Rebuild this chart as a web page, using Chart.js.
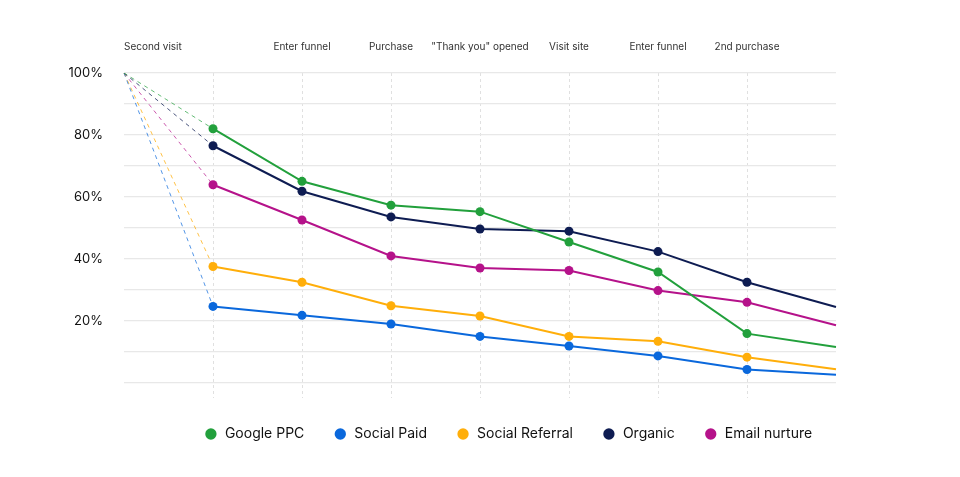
<!DOCTYPE html>
<html>
<head>
<meta charset="utf-8">
<script src="https://cdn.jsdelivr.net/npm/chart.js@4/dist/chart.umd.min.js"></script>
<style>
  body { margin: 0; background: #fff; }
  #chart { display: block; }
</style>
</head>
<body>
<canvas id="chart" width="960" height="477"></canvas>
<script>
const steps = ['Second visit', '', 'Enter funnel', 'Purchase', '"Thank you" opened', 'Visit site', 'Enter funnel', '2nd purchase', ''];

const googlePPC = [100, 82, 65, 57.3, 55.2, 45.4, 35.7, 15.8, 11.5];
const socialPaid = [100, 24.6, 21.7, 18.9, 14.9, 11.8, 8.6, 4.2, 2.5];
const socialReferral = [100, 37.5, 32.4, 24.8, 21.5, 14.9, 13.3, 8.2, 4.3];
const organic = [100, 76.5, 61.8, 53.5, 49.6, 48.9, 42.3, 32.4, 24.4];
const emailNurture = [100, 63.9, 52.5, 40.9, 37.0, 36.2, 29.7, 25.9, 18.5];

const FONT = 'Inter, "Noto Sans", sans-serif';
const last = steps.length - 1;

function series(label, data, color, faded) {
    return {
        label: label,
        data: data,
        yAxisID: 'y',
        borderColor: color,
        backgroundColor: color,
        borderWidth: 2,
        tension: 0,
        pointRadius: ctx => (ctx.dataIndex === 0 || ctx.dataIndex === last) ? 0 : 4.5,
        pointHoverRadius: 5,
        pointBorderWidth: 0,
        segment: {
            borderDash: ctx => ctx.p0DataIndex === 0 ? [4, 4] : undefined,
            borderWidth: ctx => ctx.p0DataIndex === 0 ? 1 : undefined,
            borderColor: ctx => ctx.p0DataIndex === 0 ? faded : undefined
        }
    };
}

new Chart(document.getElementById('chart').getContext('2d'), {
    type: 'line',
    data: {
        labels: steps,
        datasets: [
            series('Google PPC', googlePPC, '#22a03c', 'rgba(34,160,60,0.7)'),
            series('Social Paid', socialPaid, '#0a68dc', 'rgba(10,104,220,0.7)'),
            series('Social Referral', socialReferral, '#ffae0a', 'rgba(255,174,10,0.75)'),
            series('Organic', organic, '#0e1c52', 'rgba(14,28,82,0.75)'),
            series('Email nurture', emailNurture, '#b5128a', 'rgba(181,18,138,0.7)')
        ]
    },
    options: {
        responsive: false,
        animation: false,
        layout: { padding: { left: 56, right: 0, top: 0, bottom: 26 } },
        scales: {
            x: {
                position: 'top',
                afterFit: scale => { scale.height = 73; },
                border: { display: false, dash: [3, 3] },
                grid: {
                    drawTicks: false,
                    color: ctx => (ctx.index === 0 || ctx.index === last) ? 'rgba(0,0,0,0)' : '#e0e0e0'
                },
                ticks: {
                    align: 'inner',
                    autoSkip: false,
                    maxRotation: 0,
                    padding: 20,
                    color: '#333',
                    font: { family: FONT, size: 10 }
                }
            },
            y: {
                min: -5,
                max: 100,
                afterFit: scale => { scale.width = 68; },
                border: { display: false },
                grid: {
                    drawTicks: false,
                    lineWidth: 1.2,
                    color: ctx => ctx.tick.value < 0 ? 'rgba(0,0,0,0)' : '#e8e8e8'
                },
                ticks: {
                    stepSize: 10,
                    padding: 21,
                    color: '#111',
                    font: { family: FONT, size: 13 },
                    callback: v => (v > 0 && v % 20 === 0) ? v + '%' : ''
                }
            },
            yRight: {
                position: 'right',
                min: -5,
                max: 100,
                afterFit: scale => { scale.width = 124; },
                border: { display: false },
                grid: { display: false, drawTicks: false },
                ticks: { display: false }
            }
        },
        plugins: {
            legend: {
                position: 'bottom',
                labels: {
                    usePointStyle: true,
                    pointStyle: 'circle',
                    boxWidth: 14,
                    boxHeight: 8,
                    padding: 29,
                    color: '#111',
                    font: { family: FONT, size: 14 }
                }
            },
            tooltip: { enabled: false }
        }
    }
});
</script>
</body>
</html>
